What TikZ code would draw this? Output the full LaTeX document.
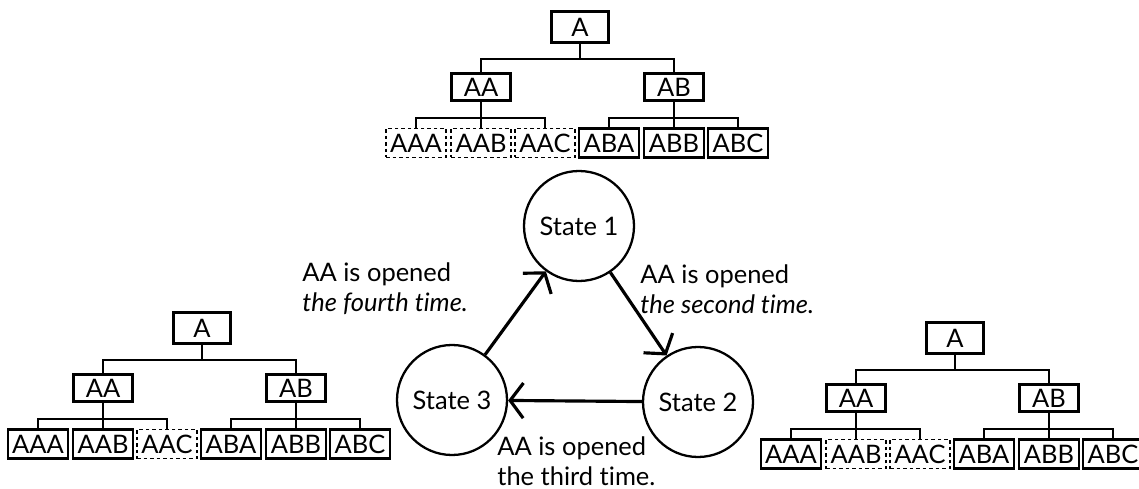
\documentclass[tikz,border=0pt]{standalone}
\usepackage{fontspec}
\setmainfont{Lato}[Ligatures=NoCommon]
\usetikzlibrary{positioning}
\usetikzlibrary{arrows.meta}

\tikzset{
    rootbox/.style={draw, line width=1.3pt, minimum width=11.4mm, minimum height=6.2mm, inner sep=1pt},
    midbox/.style={draw, line width=1.3pt, minimum width=11.8mm, minimum height=5.4mm, inner sep=1pt},
    leaf/.style={draw, line width=1.3pt, minimum width=12mm, minimum height=5.8mm, inner sep=1pt},
    dleaf/.style={leaf, line width=1.1pt, dash pattern=on 2.2pt off 1.5pt},
    branch/.style={line width=1.1pt},
    state/.style={draw, circle, line width=1.3pt, minimum size=22mm, inner sep=0pt},
    trans/.style={line width=1.8pt, -{Straight Barb[length=7.5pt,width=20pt]}},
    note/.style={anchor=west, align=left, inner sep=0pt}
}

% one tree: prefix, root position, styles of AAA, AAB, AAC
\newcommand{\drawtree}[5]{%
    \begin{scope}[shift={#2}]
        \node[rootbox] (#1A) at (0,0) {A};
        \node[midbox] (#1AA) at (-99,60) {AA};
        \node[midbox] (#1AB) at (94,60) {AB};
        \node[#3] (#1AAA) at (-164,116) {AAA};
        \node[#4] (#1AAB) at (-99,116) {AAB};
        \node[#5] (#1AAC) at (-35,116) {AAC};
        \node[leaf] (#1ABA) at (29,116) {ABA};
        \node[leaf] (#1ABB) at (94,116) {ABB};
        \node[leaf] (#1ABC) at (158,116) {ABC};
        \coordinate (#1bar) at (0,32);
        \coordinate (#1AAbar) at (-99,91);
        \coordinate (#1ABbar) at (94,91);
        \draw[branch] (#1A) -- (#1bar);
        \draw[branch] (#1AA) |- (#1bar) -| (#1AB);
        \draw[branch] (#1AA) -- (#1AAB);
        \draw[branch] (#1AAA) |- (#1AAbar) -| (#1AAC);
        \draw[branch] (#1AB) -- (#1ABB);
        \draw[branch] (#1ABA) |- (#1ABbar) -| (#1ABC);
    \end{scope}}

\begin{document}
\begin{tikzpicture}[x=0.2mm, y=-0.2mm, font=\fontsize{14.5}{17}\selectfont]

                \useasboundingbox (0,0) rectangle (1139,489);

                % trees
                \drawtree{t}{(580,27)}{dleaf}{dleaf}{dleaf}
                \drawtree{l}{(202,328)}{leaf}{leaf}{dleaf}
                \drawtree{r}{(955,338)}{leaf}{dleaf}{dleaf}

                % states
                \node[state] (s1) at (579,226) {State 1};
                \node[state] (s2) at (698,402) {State 2};
                \node[state] (s3) at (452,400) {State 3};

                % transitions
                \draw[trans] (s1) -- (s2);
                \draw[trans] (s2) -- (s3);
                \draw[trans] (s3) -- (s1);

                % Labels
                \node[note] (n2) at (640,289) {AA is opened\\\textit{the second time.}};
                \node[note] (n3) at (497,461) {AA is opened\\the third time.};
                \node[note] (n4) at (302,289) {AA is opened\\\textit{the fourth time.}};

            \end{tikzpicture}
\end{document}
